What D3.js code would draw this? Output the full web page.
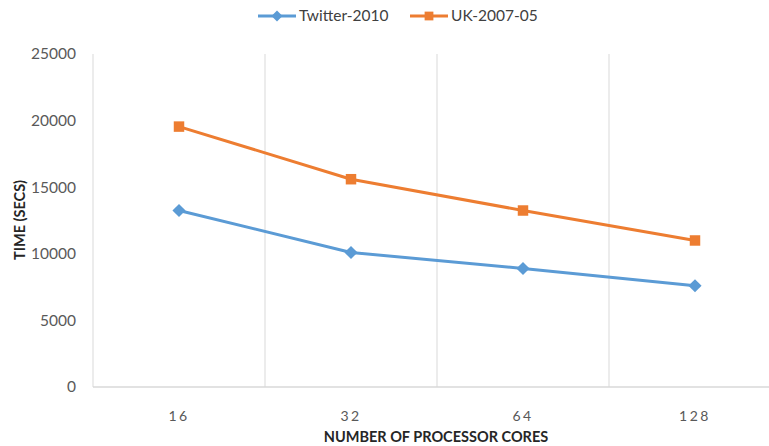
<!DOCTYPE html>
<html>
<head>
<meta charset="utf-8">
<script src="https://cdn.jsdelivr.net/npm/d3@7"></script>
<style>
  html, body { margin: 0; padding: 0; background: #fff; }
  svg { display: block; font-family: Lato, "Open Sans", sans-serif; }
</style>
</head>
<body>
<svg id="chart" width="769" height="446"></svg>
<script>
// Processor core counts on the x axis
const cores = ["16", "32", "64", "128"];
// Run times in seconds for each graph
const twitter2010 = [13250, 10100, 8900, 7600];
const uk200705 = [19550, 15600, 13250, 11000];
const yTicks = [0, 5000, 10000, 15000, 20000, 25000];

const seriesList = [
  { name: "Twitter-2010", values: twitter2010, color: "#5B9BD5", symbol: d3.symbolDiamond2, size: 110 },
  { name: "UK-2007-05", values: uk200705, color: "#ED7D31", symbol: d3.symbolSquare2, size: 140 }
];

const svg = d3.select("#chart");
const margin = { left: 93, top: 54, bottom: 387 };
const bandW = 172;

const x = d3.scaleBand().domain(cores).range([margin.left, margin.left + bandW * cores.length]).padding(0);
const y = d3.scaleLinear().domain([0, 25000]).range([margin.bottom, margin.top]);

// Vertical gridlines at category boundaries
const bounds = cores.map(c => x(c)).concat([x.range()[1]]);
svg.append("g").selectAll("line").data(bounds).join("line")
  .attr("x1", d => d).attr("x2", d => d)
  .attr("y1", margin.top).attr("y2", margin.bottom)
  .attr("stroke", "#d9d9d9").attr("stroke-width", 1);

// Baseline
svg.append("line")
  .attr("x1", margin.left).attr("x2", x.range()[1])
  .attr("y1", margin.bottom).attr("y2", margin.bottom)
  .attr("stroke", "#d9d9d9").attr("stroke-width", 1.5);

// Y axis labels
const yAxis = d3.axisLeft(y).tickValues(yTicks).tickSize(0).tickPadding(0).tickFormat(d3.format("d"));
const gy = svg.append("g").attr("transform", `translate(${margin.left - 17},0)`).call(yAxis);
gy.select(".domain").remove();
gy.selectAll("text").attr("fill", "#595959").style("font-size", "15.5px").style("font-family", "Lato, sans-serif");

// X axis labels
const xAxis = d3.axisBottom(x).tickSize(0).tickPadding(0);
const gx = svg.append("g").attr("transform", `translate(0,${margin.bottom + 24})`).call(xAxis);
gx.select(".domain").remove();
gx.selectAll("text").attr("fill", "#595959").style("font-size", "14px")
  .style("letter-spacing", "2.5px").style("font-family", "Lato, sans-serif");

// Axis titles
svg.append("text")
  .attr("x", 436).attr("y", 442)
  .attr("text-anchor", "middle")
  .attr("fill", "#262626").style("font-weight", "bold").style("font-size", "14.5px")
  .text("NUMBER OF PROCESSOR CORES");

svg.append("text")
  .attr("transform", "translate(25,220) rotate(-90)")
  .attr("text-anchor", "middle")
  .attr("fill", "#262626").style("font-weight", "bold").style("font-size", "14.5px")
  .text("TIME (SECS)");

// Lines and markers
const line = d3.line().x((d, i) => x(cores[i]) + x.bandwidth() / 2).y(d => y(d));
seriesList.forEach(s => {
  svg.append("path")
    .attr("d", line(s.values))
    .attr("fill", "none").attr("stroke", s.color).attr("stroke-width", 3)
    .attr("stroke-linejoin", "round");
  svg.append("g").selectAll("path").data(s.values).join("path")
    .attr("transform", (d, i) => `translate(${x(cores[i]) + x.bandwidth() / 2},${y(d)})`)
    .attr("d", d3.symbol().type(s.symbol).size(s.size))
    .attr("fill", s.color);
});

// Legend
const legendItems = [
  { s: seriesList[0], x0: 258 },
  { s: seriesList[1], x0: 410 }
];
legendItems.forEach(({ s, x0 }) => {
  const g = svg.append("g").attr("transform", `translate(${x0},16)`);
  g.append("line").attr("x1", 0).attr("x2", 38).attr("y1", 0).attr("y2", 0)
    .attr("stroke", s.color).attr("stroke-width", 3);
  g.append("path").attr("transform", "translate(19,0)")
    .attr("d", d3.symbol().type(s.symbol).size(s.size * 0.7)).attr("fill", s.color);
  g.append("text").attr("x", 41).attr("y", 0).attr("dy", "0.35em")
    .attr("fill", "#404040").style("font-size", "15.5px").text(s.name);
});
</script>
</body>
</html>
